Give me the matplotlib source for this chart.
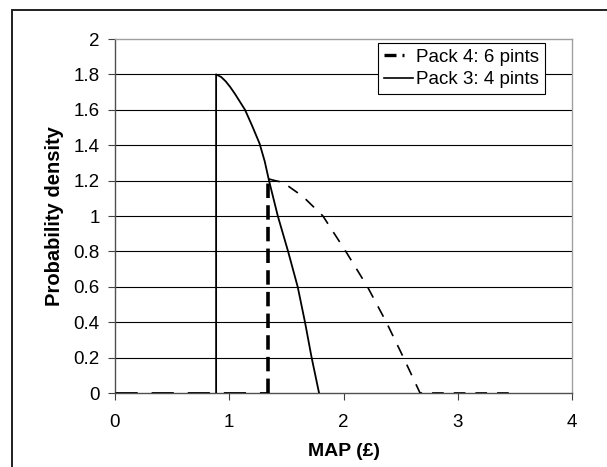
import matplotlib.pyplot as plt
from matplotlib.lines import Line2D
from matplotlib.patches import Rectangle

plt.rcParams['font.family'] = ['Liberation Sans', 'DejaVu Sans']

# values
pack3_x = [0.885, 0.885, 0.93, 0.97, 1.007, 1.05, 1.138, 1.20, 1.265, 1.31, 1.348, 1.425, 1.515, 1.599, 1.663, 1.721, 1.786]
pack3_y = [0.0, 1.8, 1.785, 1.76, 1.73, 1.69, 1.6, 1.51, 1.41, 1.31, 1.2, 1.0, 0.8, 0.6, 0.4, 0.2, 0.0]

pack4_x = [0.0, 1.342, 1.342, 1.40, 1.47, 1.645, 1.82, 2.02, 2.21, 2.375, 2.525, 2.67, 3.45]
pack4_y = [0.0, 0.0, 1.21, 1.2, 1.19, 1.11, 1.0, 0.8, 0.6, 0.4, 0.2, 0.0, 0.0]

x_ticks = [0, 1, 2, 3, 4]
y_ticks = [0, 0.2, 0.4, 0.6, 0.8, 1, 1.2, 1.4, 1.6, 1.8, 2]
y_labels = ['0', '0.2', '0.4', '0.6', '0.8', '1', '1.2', '1.4', '1.6', '1.8', '2']

fig = plt.figure(figsize=(6.07, 4.67), dpi=100)
ax = fig.add_axes([115 / 607, 74 / 467, 457 / 607, 354 / 467])

# outer chart border (open at right and bottom like the crop)
fig.patches.append(Rectangle((12 / 607, -0.05), 1.2, (457 + 0.05 * 467) / 467,
                             transform=fig.transFigure, fill=False,
                             edgecolor='#202020', linewidth=1.4))

for y in y_ticks[1:-1]:
    ax.axhline(y, color='black', linewidth=0.8, zorder=1)

# Pack 4: flat, vertical drop, then the curve
ax.plot(pack4_x[:2], pack4_y[:2], color='black', linewidth=2.0,
        dashes=(8, 5), zorder=3)
ax.plot(pack4_x[1:3], pack4_y[1:3], color='black', linewidth=2.6,
        dashes=(4, 2), zorder=3)
ax.plot(pack4_x[2:], pack4_y[2:], color='black', linewidth=1.2,
        dashes=(7, 6), zorder=3)

ax.plot(pack3_x, pack3_y, color='black', linewidth=1.3, zorder=4)

ax.set_xlim(0, 4)
ax.set_ylim(0, 2)
ax.set_xticks(x_ticks)
ax.set_yticks(y_ticks)
ax.set_yticklabels(y_labels)
ax.tick_params(axis='both', labelsize=13.5, length=5, width=0.8, color='#404040')
ax.tick_params(axis='x', pad=10)
ax.tick_params(axis='y', pad=6)

for side in ['left', 'bottom']:
    ax.spines[side].set_color('#505050')
    ax.spines[side].set_linewidth(1.0)
for side in ['top', 'right']:
    ax.spines[side].set_color('#a0a0a0')
    ax.spines[side].set_linewidth(1.0)

ax.set_xlabel('MAP (£)', fontsize=14, fontweight='bold', labelpad=9)
ax.set_ylabel('Probability density', fontsize=14.5, fontweight='bold', labelpad=7)

handles = [
    Line2D([], [], color='black', linewidth=2.4, dashes=(3.6, 1.8, 0.6, 5)),
    Line2D([], [], color='black', linewidth=1.2),
]
leg = ax.legend(handles, ['Pack 4: 6 pints', 'Pack 3: 4 pints'],
                loc='upper right', bbox_to_anchor=(0.941, 0.989),
                borderaxespad=0, fontsize=13.5, fancybox=False, framealpha=1,
                edgecolor='black', handlelength=1.55, handletextpad=0.2,
                borderpad=0.3, labelspacing=0.3)
leg.get_frame().set_linewidth(0.8)

fig.savefig('out.png', dpi=100)
